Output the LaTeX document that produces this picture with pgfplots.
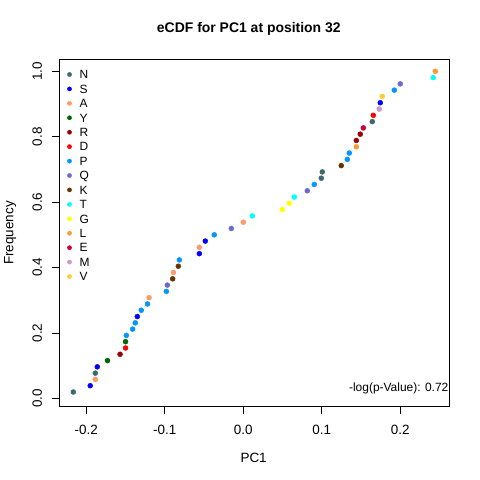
\documentclass[border=0pt]{standalone}
\usepackage{fontspec}
\setmainfont{Liberation Sans}
\usepackage{pgfplots}
\pgfplotsset{compat=1.18}
\definecolor{cN}{HTML}{3D686E}
\definecolor{cS}{HTML}{0000FF}
\definecolor{cA}{HTML}{FF9966}
\definecolor{cY}{HTML}{006400}
\definecolor{cR}{HTML}{990000}
\definecolor{cD}{HTML}{FF0000}
\definecolor{cP}{HTML}{0096FF}
\definecolor{cQ}{HTML}{6A6ACD}
\definecolor{cK}{HTML}{663300}
\definecolor{cT}{HTML}{00FFFF}
\definecolor{cG}{HTML}{FFFF00}
\definecolor{cL}{HTML}{FF9933}
\definecolor{cE}{HTML}{CC0033}
\definecolor{cM}{HTML}{CC99CC}
\definecolor{cV}{HTML}{FFCC33}
\begin{document}
\begin{tikzpicture}[x=1bp,y=1bp]
\path[use as bounding box, fill=white] (0,0) rectangle (480,480);
\begin{axis}[
  at={(59.3bp,73.3bp)}, anchor=south west,
  scale only axis, width=390.2bp, height=347.4bp,
  xmin=-0.2344, xmax=0.2627, ymin=-0.0257, ymax=1.0367,
  xtick={-0.2,-0.1,0,0.1,0.2}, xticklabels={-0.2,-0.1,0.0,0.1,0.2},
  ytick={0,0.2,0.4,0.6,0.8,1.0}, yticklabels={0.0,0.2,0.4,0.6,0.8,1.0},
  tick align=outside, major tick length=7.2bp,
  xtick pos=lower, ytick pos=left,
  tick style={black, line width=0.75bp},
  axis line style={black, line width=0.75bp},
  font=\fontsize{12}{14}\selectfont,
  tick label style={font=\fontsize{13.5}{15}\selectfont},
  xticklabel style={anchor=base, inner sep=0pt, yshift=-21bp},
  yticklabel style={xshift=-10.3bp, rotate=90, anchor=base, inner sep=0pt},
  title={eCDF for PC1 at position 32},
  title style={font=\bfseries\fontsize{14}{16}\selectfont, at={(axis description cs:0.4857,1.0604)}, anchor=base, inner sep=0pt},
  xlabel={PC1},
  xlabel style={font=\fontsize{13.5}{15}\selectfont, at={(axis description cs:0.498,-0.1612)}, anchor=base, inner sep=0pt},
  ylabel={Frequency},
  ylabel style={font=\fontsize{13.5}{15}\selectfont, at={(axis description cs:-0.1179,0.5)}, rotate=0, anchor=base, inner sep=0pt},
  legend style={at={(axis description cs:0,1)}, anchor=north west, yshift=-10.7bp,
    draw=none, fill=none, inner sep=0pt, row sep=5.83bp, column sep=0pt,
    /tikz/every even column/.style={column sep=0pt},
    font=\fontsize{12}{14}\selectfont,
    nodes={inner sep=0pt, text height=8.6bp, text depth=0pt}},
  legend cell align=left,
  legend style={cells={anchor=base west}},
  legend image code/.code={%
    \path[draw=none, fill=none] (-10bp,0bp) rectangle (10.1bp,8.6bp);
    \draw[#1, mark size=2.1bp] plot coordinates {(0bp,4.3bp)};},
  every axis plot/.append style={only marks, mark=*, mark size=2.5bp, line width=0.4bp},
]
\addplot[color=cN] coordinates {(-0.2166,0.01923) (-0.1885,0.07692) (0.0994,0.67308) (0.1006,0.69231) (0.1643,0.84615)};
\addlegendentry{N}
\addplot[color=cS] coordinates {(-0.195,0.03846) (-0.186,0.09615) (-0.135,0.25) (-0.056,0.44231) (-0.0484,0.48077) (0.1745,0.90385)};
\addlegendentry{S}
\addplot[color=cA] coordinates {(-0.1885,0.05769) (-0.120,0.30769) (-0.089,0.38462) (-0.056,0.46154) (0.0,0.53846)};
\addlegendentry{A}
\addplot[color=cY] coordinates {(-0.173,0.11538) (-0.150,0.17308)};
\addlegendentry{Y}
\addplot[color=cR] coordinates {(-0.157,0.13462) (0.144,0.78846) (0.149,0.80769)};
\addlegendentry{R}
\addplot[color=cD] coordinates {(-0.150,0.15385) (0.1656,0.86538)};
\addlegendentry{D}
\addplot[color=cP] coordinates {(-0.149,0.19231) (-0.141,0.21154) (-0.1376,0.23077) (-0.130,0.26923) (-0.122,0.28846) (-0.098,0.32692) (-0.0815,0.42308) (-0.037,0.5) (0.0904,0.65385) (0.1325,0.73077) (0.135,0.75) (0.1924,0.94231)};
\addlegendentry{P}
\addplot[color=cQ] coordinates {(-0.0968,0.34615) (-0.0153,0.51923) (0.0815,0.63462) (0.2,0.96154)};
\addlegendentry{Q}
\addplot[color=cK] coordinates {(-0.090,0.36538) (-0.0828,0.40385) (0.1248,0.71154)};
\addlegendentry{K}
\addplot[color=cT] coordinates {(0.0115,0.55769) (0.065,0.61538) (0.242,0.98077)};
\addlegendentry{T}
\addplot[color=cG] coordinates {(0.0497,0.57692) (0.0586,0.59615)};
\addlegendentry{G}
\addplot[color=cL] coordinates {(0.144,0.76923) (0.2446,1.0)};
\addlegendentry{L}
\addplot[color=cE] coordinates {(0.1529,0.82692)};
\addlegendentry{E}
\addplot[color=cM] coordinates {(0.1732,0.88462)};
\addlegendentry{M}
\addplot[color=cV] coordinates {(0.177,0.92308)};
\addlegendentry{V}
\node[anchor=base east, inner sep=0pt, font=\fontsize{12}{14}\selectfont] at (axis description cs:0.9975,0.0438) {-log(p-Value): 0.72};
\end{axis}
\end{tikzpicture}
\end{document}
